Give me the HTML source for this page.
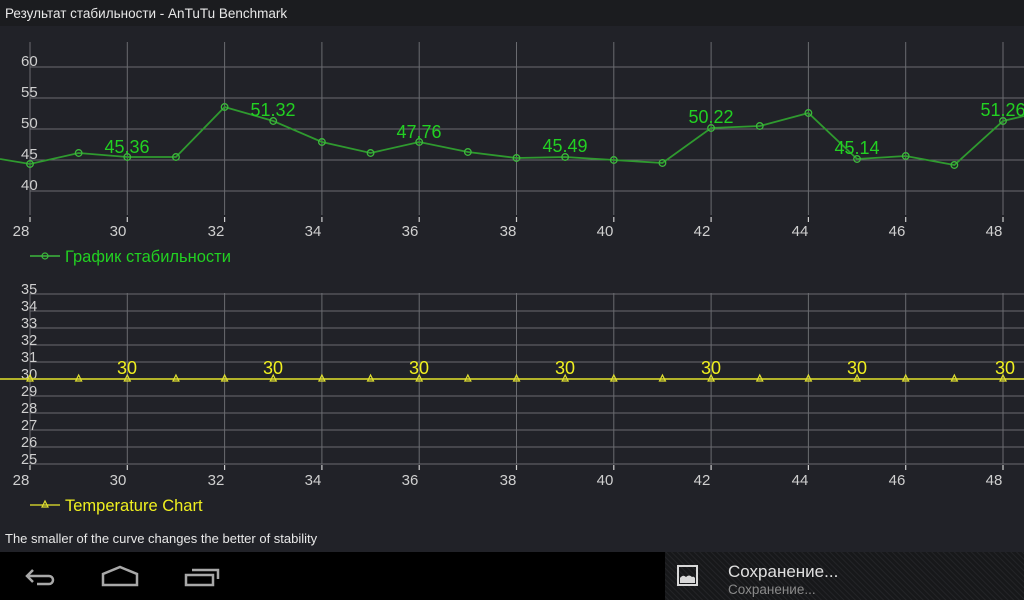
<!DOCTYPE html>
<html><head><meta charset="utf-8"><style>
html,body{margin:0;padding:0;width:1024px;height:600px;overflow:hidden;background:#212228;font-family:"Liberation Sans","DejaVu Sans",sans-serif;}
</style></head><body>
<svg width="1024" height="600" viewBox="0 0 1024 600" xmlns="http://www.w3.org/2000/svg" style="position:absolute;left:0;top:0">
<defs>
<pattern id="st" width="4" height="4" patternUnits="userSpaceOnUse" patternTransform="rotate(-45)">
<rect width="4" height="4" fill="#17181a"/><rect width="1" height="4" fill="#232427"/>
</pattern>
</defs>
<rect x="0" y="0" width="1024" height="600" fill="#212228"/>
<rect x="0" y="0" width="1024" height="26" fill="#1b1c1f"/>
<text x="5" y="18" font-size="13.5" fill="#e8e8e8">Результат стабильности - AnTuTu Benchmark</text>

<!-- Top chart grid -->
<g stroke="#6a6b70" stroke-width="1">
<line x1="30" y1="67" x2="1024" y2="67"/><line x1="30" y1="98" x2="1024" y2="98"/><line x1="30" y1="129" x2="1024" y2="129"/><line x1="30" y1="160" x2="1024" y2="160"/><line x1="30" y1="191" x2="1024" y2="191"/>
</g>
<g stroke="#6a6b70" stroke-width="1">
<line x1="30" y1="42" x2="30" y2="215"/><line x1="127.3" y1="42" x2="127.3" y2="215"/><line x1="224.6" y1="42" x2="224.6" y2="215"/><line x1="321.9" y1="42" x2="321.9" y2="215"/><line x1="419.2" y1="42" x2="419.2" y2="215"/><line x1="516.5" y1="42" x2="516.5" y2="215"/><line x1="613.8" y1="42" x2="613.8" y2="215"/><line x1="711.1" y1="42" x2="711.1" y2="215"/><line x1="808.4" y1="42" x2="808.4" y2="215"/><line x1="905.7" y1="42" x2="905.7" y2="215"/><line x1="1003" y1="42" x2="1003" y2="215"/>
</g>
<g stroke="#cfcfcf" stroke-width="1.2">
<line x1="30" y1="217" x2="30" y2="222"/><line x1="127.3" y1="217" x2="127.3" y2="222"/><line x1="224.6" y1="217" x2="224.6" y2="222"/><line x1="321.9" y1="217" x2="321.9" y2="222"/><line x1="419.2" y1="217" x2="419.2" y2="222"/><line x1="516.5" y1="217" x2="516.5" y2="222"/><line x1="613.8" y1="217" x2="613.8" y2="222"/><line x1="711.1" y1="217" x2="711.1" y2="222"/><line x1="808.4" y1="217" x2="808.4" y2="222"/><line x1="905.7" y1="217" x2="905.7" y2="222"/><line x1="1003" y1="217" x2="1003" y2="222"/>
</g>
<g fill="#cfcfcf" font-size="15">
<text x="21" y="66">60</text><text x="21" y="97">55</text><text x="21" y="128">50</text><text x="21" y="159">45</text><text x="21" y="190">40</text>
</g>
<g fill="#cfcfcf" font-size="15" text-anchor="middle">
<text x="21" y="236">28</text><text x="118" y="236">30</text><text x="216" y="236">32</text><text x="313" y="236">34</text><text x="410" y="236">36</text><text x="508" y="236">38</text><text x="605" y="236">40</text><text x="702" y="236">42</text><text x="800" y="236">44</text><text x="897" y="236">46</text><text x="994" y="236">48</text>
</g>
<polyline fill="none" stroke="#2f9a2f" stroke-width="1.8" points="0,159 30,164 78.65,153 127.3,157 175.95,157 224.6,107 273.25,121 321.9,142 370.55,153 419.2,142 467.85,152 516.5,158 565.15,157 613.8,160 662.45,163 711.1,128 759.75,126 808.4,113 857.05,159 905.7,156 954.35,165 1003,121 1024,116"/>
<g fill="none" stroke="#3cb83c" stroke-width="1.3">
<circle cx="30" cy="164" r="3.3"/><circle cx="78.65" cy="153" r="3.3"/><circle cx="127.3" cy="157" r="3.3"/><circle cx="175.95" cy="157" r="3.3"/><circle cx="224.6" cy="107" r="3.3"/><circle cx="273.25" cy="121" r="3.3"/><circle cx="321.9" cy="142" r="3.3"/><circle cx="370.55" cy="153" r="3.3"/><circle cx="419.2" cy="142" r="3.3"/><circle cx="467.85" cy="152" r="3.3"/><circle cx="516.5" cy="158" r="3.3"/><circle cx="565.15" cy="157" r="3.3"/><circle cx="613.8" cy="160" r="3.3"/><circle cx="662.45" cy="163" r="3.3"/><circle cx="711.1" cy="128" r="3.3"/><circle cx="759.75" cy="126" r="3.3"/><circle cx="808.4" cy="113" r="3.3"/><circle cx="857.05" cy="159" r="3.3"/><circle cx="905.7" cy="156" r="3.3"/><circle cx="954.35" cy="165" r="3.3"/><circle cx="1003" cy="121" r="3.3"/>
</g>
<g fill="#22d022" font-size="18" text-anchor="middle">
<text x="127" y="153">45.36</text><text x="273" y="116">51.32</text><text x="419" y="138">47.76</text><text x="565" y="152">45.49</text><text x="711" y="123">50.22</text><text x="857" y="154">45.14</text><text x="1003" y="116">51.26</text>
</g>
<line x1="30" y1="256" x2="60" y2="256" stroke="#3cb83c" stroke-width="1.5"/>
<circle cx="45" cy="256" r="3" fill="none" stroke="#3cb83c" stroke-width="1.2"/>
<text x="65" y="262" font-size="16.5" fill="#22d022">График стабильности</text>

<!-- Bottom chart -->
<g stroke="#6a6b70" stroke-width="1">
<line x1="30" y1="294" x2="1024" y2="294"/><line x1="30" y1="311" x2="1024" y2="311"/><line x1="30" y1="328" x2="1024" y2="328"/><line x1="30" y1="345" x2="1024" y2="345"/><line x1="30" y1="362" x2="1024" y2="362"/><line x1="30" y1="396" x2="1024" y2="396"/><line x1="30" y1="413" x2="1024" y2="413"/><line x1="30" y1="430" x2="1024" y2="430"/><line x1="30" y1="447" x2="1024" y2="447"/><line x1="30" y1="464" x2="1024" y2="464"/>
</g>
<g stroke="#6a6b70" stroke-width="1">
<line x1="30" y1="293" x2="30" y2="464"/><line x1="127.3" y1="293" x2="127.3" y2="464"/><line x1="224.6" y1="293" x2="224.6" y2="464"/><line x1="321.9" y1="293" x2="321.9" y2="464"/><line x1="419.2" y1="293" x2="419.2" y2="464"/><line x1="516.5" y1="293" x2="516.5" y2="464"/><line x1="613.8" y1="293" x2="613.8" y2="464"/><line x1="711.1" y1="293" x2="711.1" y2="464"/><line x1="808.4" y1="293" x2="808.4" y2="464"/><line x1="905.7" y1="293" x2="905.7" y2="464"/><line x1="1003" y1="293" x2="1003" y2="464"/>
</g>
<g stroke="#cfcfcf" stroke-width="1.2">
<line x1="30" y1="465" x2="30" y2="470"/><line x1="127.3" y1="465" x2="127.3" y2="470"/><line x1="224.6" y1="465" x2="224.6" y2="470"/><line x1="321.9" y1="465" x2="321.9" y2="470"/><line x1="419.2" y1="465" x2="419.2" y2="470"/><line x1="516.5" y1="465" x2="516.5" y2="470"/><line x1="613.8" y1="465" x2="613.8" y2="470"/><line x1="711.1" y1="465" x2="711.1" y2="470"/><line x1="808.4" y1="465" x2="808.4" y2="470"/><line x1="905.7" y1="465" x2="905.7" y2="470"/><line x1="1003" y1="465" x2="1003" y2="470"/>
</g>
<g fill="#cfcfcf" font-size="14.5">
<text x="21" y="294">35</text><text x="21" y="311">34</text><text x="21" y="328">33</text><text x="21" y="345">32</text><text x="21" y="362">31</text><text x="21" y="379">30</text><text x="21" y="396">29</text><text x="21" y="413">28</text><text x="21" y="430">27</text><text x="21" y="447">26</text><text x="21" y="464">25</text>
</g>
<g fill="#cfcfcf" font-size="15" text-anchor="middle">
<text x="21" y="485">28</text><text x="118" y="485">30</text><text x="216" y="485">32</text><text x="313" y="485">34</text><text x="410" y="485">36</text><text x="508" y="485">38</text><text x="605" y="485">40</text><text x="702" y="485">42</text><text x="800" y="485">44</text><text x="897" y="485">46</text><text x="994" y="485">48</text>
</g>
<line x1="0" y1="379" x2="1024" y2="379" stroke="#c8c82a" stroke-width="1.8"/>
<g fill="none" stroke="#e0e030" stroke-width="1.2">
<path d="M30 375 l-3 6 h6z M78.65 375 l-3 6 h6z M127.3 375 l-3 6 h6z M175.95 375 l-3 6 h6z M224.6 375 l-3 6 h6z M273.25 375 l-3 6 h6z M321.9 375 l-3 6 h6z M370.55 375 l-3 6 h6z M419.2 375 l-3 6 h6z M467.85 375 l-3 6 h6z M516.5 375 l-3 6 h6z M565.15 375 l-3 6 h6z M613.8 375 l-3 6 h6z M662.45 375 l-3 6 h6z M711.1 375 l-3 6 h6z M759.75 375 l-3 6 h6z M808.4 375 l-3 6 h6z M857.05 375 l-3 6 h6z M905.7 375 l-3 6 h6z M954.35 375 l-3 6 h6z M1003 375 l-3 6 h6z"/>
</g>
<g fill="#f0f020" font-size="18" text-anchor="middle">
<text x="127" y="374">30</text><text x="273" y="374">30</text><text x="419" y="374">30</text><text x="565" y="374">30</text><text x="711" y="374">30</text><text x="857" y="374">30</text><text x="1005" y="374">30</text>
</g>
<line x1="30" y1="505" x2="60" y2="505" stroke="#c8c82a" stroke-width="1.5"/>
<path d="M45 501 l-3 6 h6z" fill="none" stroke="#e0e030" stroke-width="1.2"/>
<text x="65" y="511" font-size="16.5" fill="#f0f020">Temperature Chart</text>

<text x="5" y="543" font-size="13" fill="#e8e8e8">The smaller of the curve changes the better of stability</text>

<!-- Nav bar -->
<rect x="0" y="552" width="1024" height="48" fill="#000"/>
<rect x="665" y="552" width="359" height="48" fill="url(#st)"/>
<g fill="none" stroke="#a8a8a8" stroke-width="2.5">
<path d="M33 570 l-6 6 l6 6 M27 576 h22 a4 4 0 0 1 0 8 h-12"/>
<path d="M103 585 v-11 l17 -7 l17 7 v11 z"/>
<path d="M186 575 h27 v10 h-27 z M192 570 h26 v9"/>
</g>
<rect x="678" y="566" width="19" height="19" fill="none" stroke="#d8d8d8" stroke-width="2"/>
<path d="M680 583 v-5 q3 -4 6 -1 q3 -3 6 0 q2 -1 3 1 v5 z" fill="#d8d8d8"/>
<text x="728" y="577" font-size="17" fill="#e0e0e0">Сохранение...</text>
<text x="728" y="594" font-size="13.5" fill="#8a8a8a">Сохранение...</text>
</svg>
</body></html>
